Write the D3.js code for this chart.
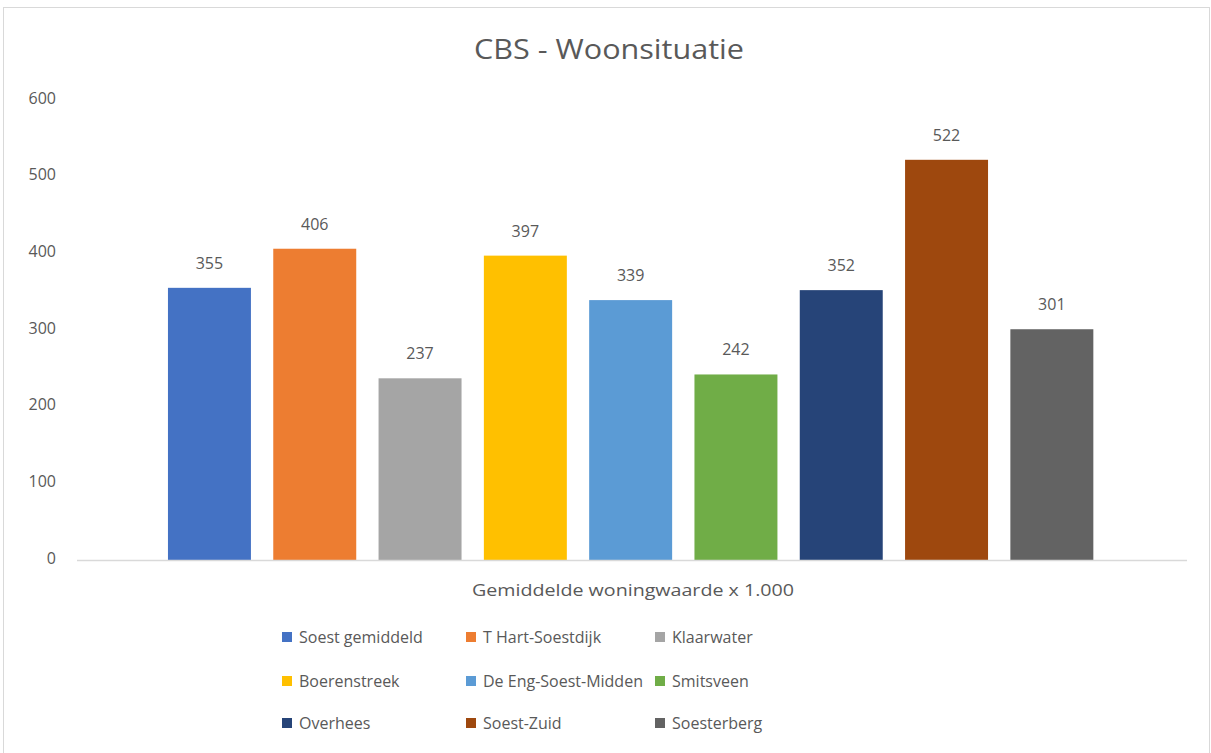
<!DOCTYPE html>
<html>
<head>
<meta charset="utf-8">
<script src="https://cdn.jsdelivr.net/npm/d3@7"></script>
<style>
  html, body { margin: 0; padding: 0; background: #fff; }
  svg { display: block; }
  text { font-family: "Open Sans", "Liberation Sans", sans-serif; fill: #595959; }
</style>
</head>
<body>
<svg id="chart" width="1211" height="753"></svg>
<script>
const title = "CBS - Woonsituatie";
const categoryLabel = "Gemiddelde woningwaarde x 1.000";
const series = ["Soest gemiddeld", "T Hart-Soestdijk", "Klaarwater", "Boerenstreek", "De Eng-Soest-Midden", "Smitsveen", "Overhees", "Soest-Zuid", "Soesterberg"];
const values = [355, 406, 237, 397, 339, 242, 352, 522, 301];
const colors = ["#4472C4", "#ED7D31", "#A5A5A5", "#FFC000", "#5B9BD5", "#70AD47", "#264478", "#9E480E", "#636363"];
const yTicks = [0, 100, 200, 300, 400, 500, 600];

const svg = d3.select("#chart");

// chart area border
svg.append("rect").attr("x", 3.5).attr("y", 7.5).attr("width", 1206).attr("height", 750)
  .attr("fill", "#fff").attr("stroke", "#D9D9D9").attr("stroke-width", 1);

const plotLeft = 77, plotRight = 1187, plotTop = 100, plotBottom = 560;

const y = d3.scaleLinear().domain([0, 600]).range([plotBottom, plotTop]);
const x = d3.scaleBand().domain(series).range([156.8, 1104.5]).paddingInner(0.212).paddingOuter(0.106);

// title
svg.append("text").attr("x", 609).attr("y", 59).attr("text-anchor", "middle")
  .style("font-size", "28px").attr("textLength", 270).attr("lengthAdjust", "spacingAndGlyphs").text(title);

// y axis labels
const yAxis = d3.axisLeft(y).tickValues(yTicks).tickSize(0).tickPadding(0);
const gy = svg.append("g").attr("transform", `translate(56,-2)`).call(yAxis);
gy.select(".domain").remove();
gy.selectAll("text").style("font-size", "16px").style("font-family", "\"Open Sans\", sans-serif").attr("fill", "#595959");

// bars
svg.append("g").selectAll("rect").data(values).join("rect")
  .attr("x", (d, i) => x(series[i]))
  .attr("y", d => y(d))
  .attr("width", x.bandwidth())
  .attr("height", d => plotBottom - y(d))
  .attr("fill", (d, i) => colors[i]);

// baseline
svg.append("line").attr("x1", plotLeft).attr("x2", plotRight).attr("y1", plotBottom + 0.5).attr("y2", plotBottom + 0.5)
  .attr("stroke", "#D9D9D9").attr("stroke-width", 1.5);

// value labels
svg.append("g").selectAll("text").data(values).join("text")
  .attr("x", (d, i) => x(series[i]) + x.bandwidth() / 2)
  .attr("y", d => y(d) - 19)
  .attr("text-anchor", "middle")
  .style("font-size", "16px")
  .text(d => d);

// category label
svg.append("text").attr("x", 633).attr("y", 596).attr("text-anchor", "middle")
  .style("font-size", "16px").attr("textLength", 322).attr("lengthAdjust", "spacingAndGlyphs").text(categoryLabel);

// legend
const colX = [282, 466, 655];
const rowY = [637, 681, 723];
const leg = svg.append("g").selectAll("g").data(series).join("g")
  .attr("transform", (d, i) => `translate(${colX[i % 3]},${rowY[Math.floor(i / 3)]})`);
leg.append("rect").attr("x", 0).attr("y", -5).attr("width", 10).attr("height", 10)
  .attr("fill", (d, i) => colors[i]);
leg.append("text").attr("x", 17).attr("y", 6).style("font-size", "16px").text(d => d);
</script>
</body>
</html>
